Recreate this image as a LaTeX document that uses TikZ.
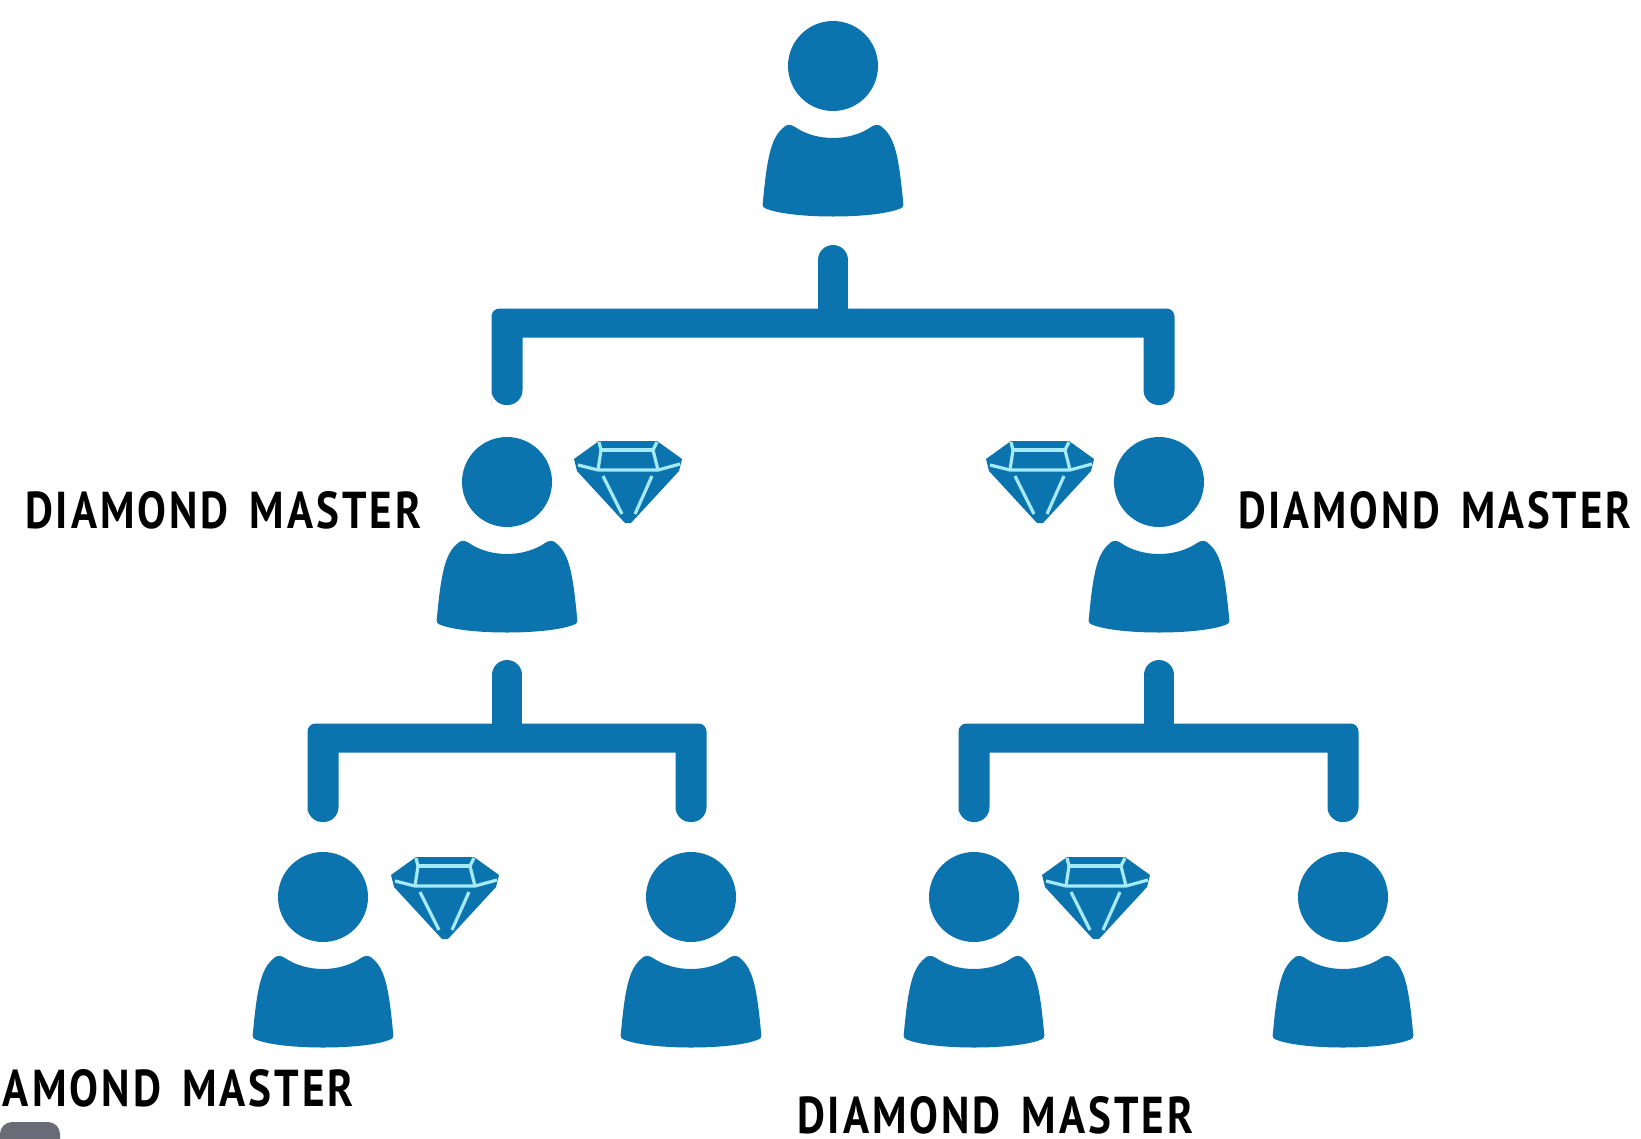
\documentclass[tikz,border=0pt]{standalone}
\usepackage{graphicx}
\usepackage{fontspec}
\newfontfamily\labfont[LetterSpace=7,WordSpace=1.5]{PT Sans}
\usetikzlibrary{calc}
\definecolor{mlmblue}{HTML}{0B74AE}
\definecolor{gemline}{HTML}{A6EAF7}
\definecolor{chipgrey}{HTML}{6B6B78}
\tikzset{
  x=1pt,y=-1pt,
  bodyfill/.style={fill=mlmblue,draw=none},
  connector/.style={draw=mlmblue,line width=30pt,line cap=round},
  bus/.style={fill=mlmblue,draw=none},
  facet/.style={draw=gemline,line width=3.2pt,line cap=butt},
  lab/.style={inner sep=0pt,outer sep=0pt,text=black},
  person/.pic={
    \fill[bodyfill] (0,0) circle[radius=45];
    \fill[bodyfill] (-50,62) .. controls (-47,58) and (-42,58) .. (-38,61)
      .. controls (-28,68) and (-14,72) .. (0,72)
      .. controls (14,72) and (28,68) .. (38,61)
      .. controls (42,58) and (47,58) .. (50,62)
      .. controls (62,72) and (66,92) .. (70,135)
      .. controls (71,140) and (70,142) .. (66,143)
      .. controls (40,153) and (-40,153) .. (-66,143)
      .. controls (-70,142) and (-71,140) .. (-70,135)
      .. controls (-66,92) and (-62,72) .. (-50,62) -- cycle;
  },
  gem/.pic={
    \fill[bodyfill] (-29,0) -- (29,0) -- (54,18) -- (51,30) -- (3,82) -- (-3,82) -- (-51,30) -- (-54,18) -- cycle;
    \draw[facet] (-27,9) -- (25,9);
    \draw[facet] (-50,24) -- (-30,29) -- (30,29) -- (52,23);
    \draw[facet] (-27,9) -- (-30,29);
    \draw[facet] (25,9) -- (30,29);
    \draw[facet] (-25,35) -- (-6,73);
    \draw[facet] (24,35) -- (7,73);
    \draw[facet] (-29,1) -- (-27,9);
    \draw[facet] (29,1) -- (25,9);
  }
}
\newcommand{\masterlabel}[1]{\resizebox{#1}{37pt}{\labfont\bfseries DIAMOND MASTER}}
% bracket from the left end (#1) up to the bus through (#2) and down to the right end (#3)
\newcommand{\bracket}[3]{%
  \fill[bus] ($(#1)+(-15.5,15)$)
    [rounded corners=8pt] -- ($(#1|-#2)+(-15.5,-14.5)$)
    -- ($(#3|-#2)+(15.5,-14.5)$)
    [rounded corners=14.9pt] -- ($(#3)+(15.5,15)$)
    -- ($(#3)+(-15.5,15)$)
    [sharp corners] -- ($(#3|-#2)+(-15.5,14.5)$)
    -- ($(#1|-#2)+(15.5,14.5)$)
    [rounded corners=14.9pt] -- ($(#1)+(15.5,15)$)
    -- ($(#1)+(-15.5,15)$)
    [sharp corners] -- cycle;}
\begin{document}
\begin{tikzpicture}
\useasboundingbox (0,0) rectangle (1641,1138);
\fill[white] (0,0) rectangle (1641,1138);
\begin{scope}
\clip (0,0) rectangle (1641,1138);

% persons (head centres)
\coordinate (top) at (833,66);
\coordinate (ml) at (507,482);
\coordinate (mr) at (1159,482);
\coordinate (b1) at (323,897);
\coordinate (b2) at (691,897);
\coordinate (b3) at (974,897);
\coordinate (b4) at (1343,897);
\foreach \p in {top,ml,mr,b1,b2,b3,b4} \pic at (\p) {person};

% connector ends
\coordinate (topS) at ($(top)+(0,194)$);
\coordinate (topB) at ($(top)+(0,257)$);
\coordinate (topJ) at ($(topB)+(0,-3)$);
\coordinate (mlE) at ($(ml)+(0,-92)$);
\coordinate (mrE) at ($(mr)+(0,-92)$);
\coordinate (mlS) at ($(ml)+(0,193)$);
\coordinate (mlB) at ($(ml)+(0,256)$);
\coordinate (mlJ) at ($(mlB)+(0,-3)$);
\coordinate (mrS) at ($(mr)+(0,193)$);
\coordinate (mrB) at ($(mr)+(0,256)$);
\coordinate (mrJ) at ($(mrB)+(0,-3)$);
\coordinate (b1E) at ($(b1)+(0,-90)$);
\coordinate (b2E) at ($(b2)+(0,-90)$);
\coordinate (b3E) at ($(b3)+(0,-90)$);
\coordinate (b4E) at ($(b4)+(0,-90)$);

\draw[connector] (topS) -- (topJ);
\bracket{mlE}{topB}{mrE}
\draw[connector] (mlS) -- (mlJ);
\bracket{b1E}{mlB}{b2E}
\draw[connector] (mrS) -- (mrJ);
\bracket{b3E}{mrB}{b4E}

% gems
\pic at (628,441) {gem};
\pic at (1040,441) {gem};
\pic at (445,857) {gem};
\pic at (1096,857) {gem};

% labels
\node[lab,anchor=west] (l1) at (25,510) {\masterlabel{396pt}};
\node[lab,anchor=west] (l2) at (1238,510) {\masterlabel{393pt}};
\node[lab,anchor=east] (l3) at (354,1088) {\resizebox{351pt}{37pt}{\labfont\bfseries AMOND MASTER}};
\node[lab,anchor=west] (l4) at (797,1115) {\masterlabel{396pt}};

% grey chip in the corner
\fill[chipgrey,rounded corners=12pt] (0,1160) -- (0,1122) -- (60,1122) -- (60,1160) -- cycle;
\end{scope}
\end{tikzpicture}
\end{document}
